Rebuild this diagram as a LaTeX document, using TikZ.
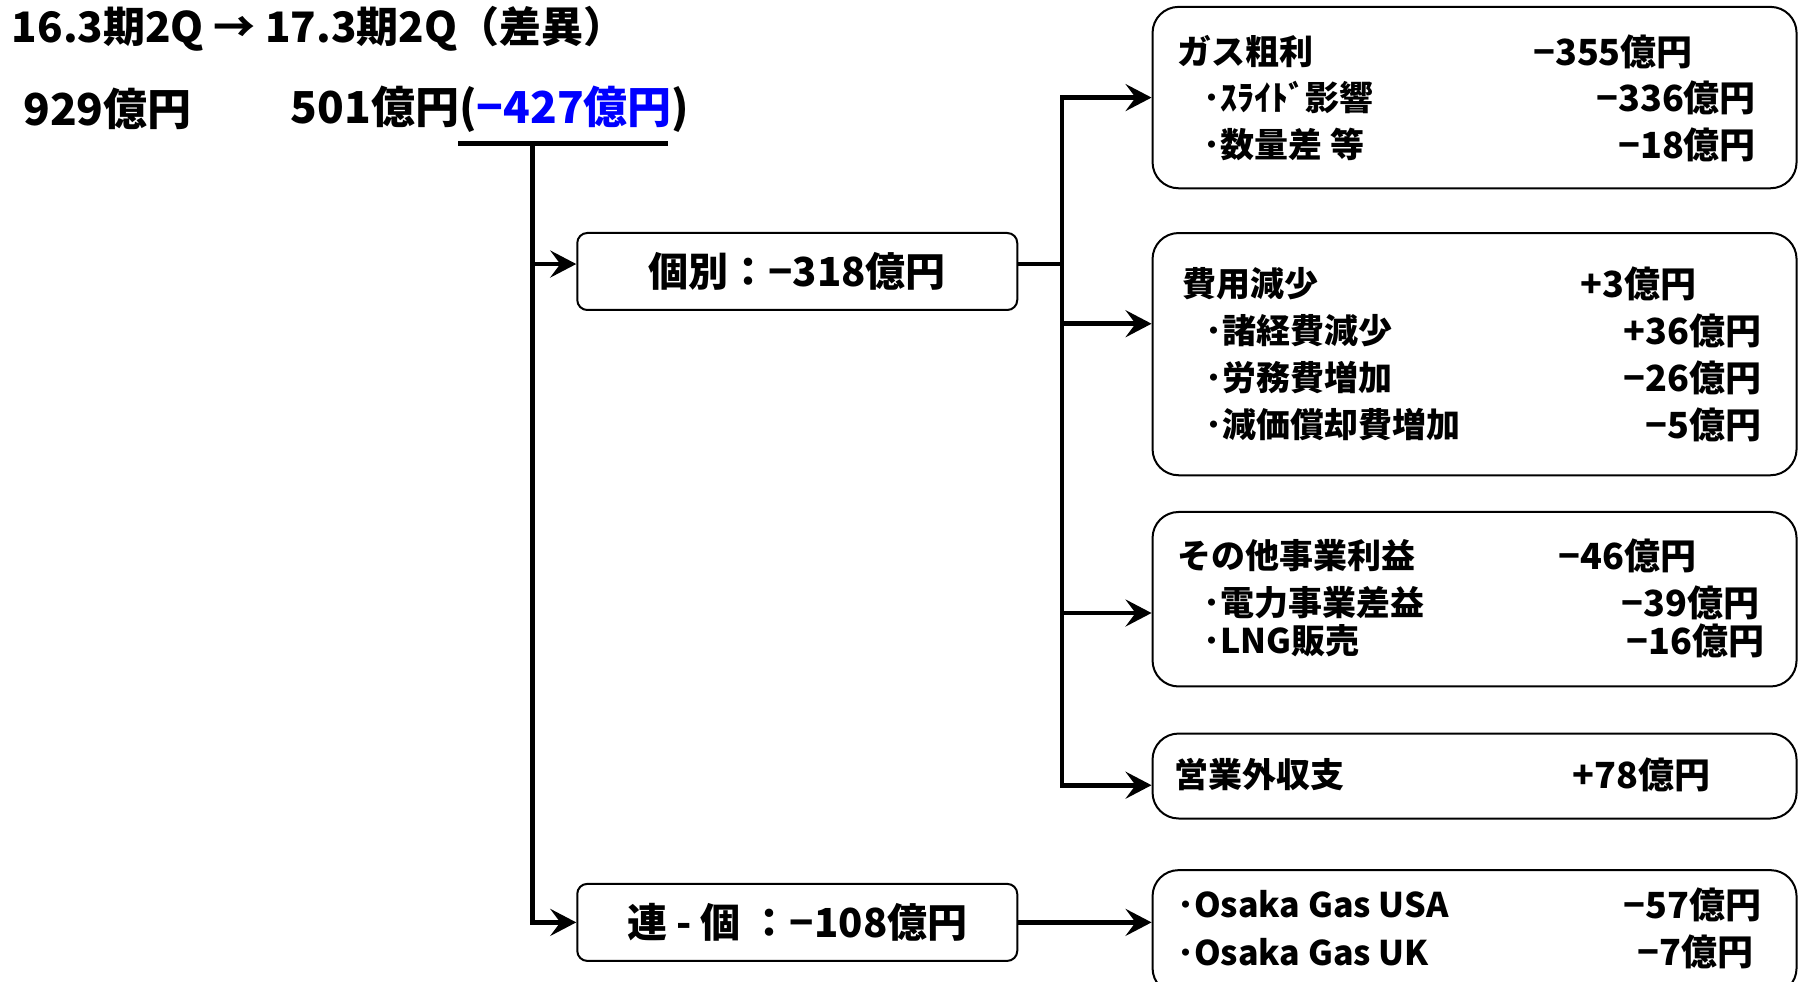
\documentclass[tikz,border=0pt]{standalone}
\usepackage{fontspec}
\setmainfont{Noto Sans CJK JP}[BoldFont={* Black}]
\usepackage{tikz}
\usetikzlibrary{shapes,arrows.meta}
\usetikzlibrary{positioning,fit}
\definecolor{difblue}{RGB}{0,0,255}
\tikzstyle{bigbox} = [draw, rounded corners=13pt, line width=1pt, inner sep=0pt]
\tikzstyle{smallbox} = [draw, rounded corners=5pt, line width=1pt, inner sep=0pt,
    minimum width=220pt, minimum height=38.5pt, font=\fontsize{20}{24}\selectfont\bfseries]
\tikzstyle{txt} = [inner sep=0pt, font=\fontsize{17}{20}\selectfont\bfseries]
\tikzstyle{lbl} = [txt, anchor=west]
\tikzstyle{val} = [txt, anchor=east, font=\fontsize{18}{20}\selectfont\bfseries]
\tikzstyle{head} = [lbl, font=\fontsize{22}{26}\selectfont\bfseries]
\tikzstyle{link} = [line width=2.3pt]
\tikzstyle{arr} = [link, -{Stealth[length=13pt, width=13.5pt, inset=5pt]}]

\begin{document}
\begin{tikzpicture}[x=0.574pt, y=-0.574pt]
  \useasboundingbox (0,0) rectangle (1568,855);
  \clip (0,0) rectangle (1568,855);
  % header
  \node [head, font=\fontsize{21}{25}\selectfont\bfseries] (title) at (10,25) {16.3期2Q → 17.3期2Q（差異）};
  \node [head] (before) at (20,95) {929億円};
  \node [head] (after) at (253,95) {501億円(\textcolor{difblue}{−427億円})};
  \coordinate (ul-l) at (399,125);
  \coordinate (ul-r) at (582,125);
  \coordinate (root) at (464,125);
  \coordinate (hub) at (925,230);
  % left boxes
  \node [smallbox] (kobetsu) at (694.5,236.5) {個別：−318億円};
  \node [smallbox] (renko) at (694.5,803.5) {連 - 個 ：−108億円};
  % right boxes
  \node [bigbox, fit={(1004,6) (1565,164)}] (gas) {};
  \node [bigbox, fit={(1004,203) (1565,414)}] (cost) {};
  \node [bigbox, fit={(1004,446) (1565,598)}] (other) {};
  \node [bigbox, fit={(1004,639) (1565,713)}] (nonop) {};
  \node [bigbox, fit={(1004,758) (1565,866)}] (subs) {};
  % texts
  \node [lbl] (gas1) at (1025,45) {ガス粗利};
  \node [val] (gas1v) at (1475,45) {−355億円};
  \node [lbl] (gas2) at (1048,85) {･ｽﾗｲﾄﾞ影響};
  \node [val] (gas2v) at (1530,85) {−336億円};
  \node [lbl] (gas3) at (1048,126) {･数量差 等};
  \node [val] (gas3v) at (1530,126) {−18億円};
  \node [lbl] (cost1) at (1030,247) {費用減少};
  \node [val] (cost1v) at (1478,247) {+3億円};
  \node [lbl] (cost2) at (1050,288) {･諸経費減少};
  \node [val] (cost2v) at (1535,288) {+36億円};
  \node [lbl] (cost3) at (1050,329) {･労務費増加};
  \node [val] (cost3v) at (1535,329) {−26億円};
  \node [lbl] (cost4) at (1050,370) {･減価償却費増加};
  \node [val] (cost4v) at (1535,370) {−5億円};
  \node [lbl] (other1) at (1025,484) {その他事業利益};
  \node [val] (other1v) at (1478,484) {−46億円};
  \node [lbl] (other2) at (1048,525) {･電力事業差益};
  \node [val] (other2v) at (1533,525) {−39億円};
  \node [lbl] (other3) at (1048,558) {･LNG販売};
  \node [val] (other3v) at (1537,558) {−16億円};
  \node [lbl] (nonop1) at (1023,675) {営業外収支};
  \node [val] (nonop1v) at (1490,675) {+78億円};
  \node [lbl] (subs1) at (1025,788) {･Osaka Gas USA};
  \node [val] (subs1v) at (1535,788) {−57億円};
  \node [lbl] (subs2) at (1025,829) {･Osaka Gas UK};
  \node [val] (subs2v) at (1528,829) {−7億円};
  % connectors
  \draw [link] (ul-l) -- (ul-r);
  \draw [arr] (root) |- (renko.west);
  \draw [arr] (root |- hub) -- (kobetsu.west |- hub);
  \draw [link] (kobetsu.east |- hub) -- (hub);
  \draw [arr] (hub) |- (gas.west);
  \draw [arr] (hub) |- (cost.west |- 0,282);
  \draw [arr] (hub) |- (other.west |- 0,534);
  \draw [arr] (hub) |- (nonop.west |- 0,684);
  \draw [arr] (renko.east) -- (renko.east -| subs.west);
\end{tikzpicture}
\end{document}
